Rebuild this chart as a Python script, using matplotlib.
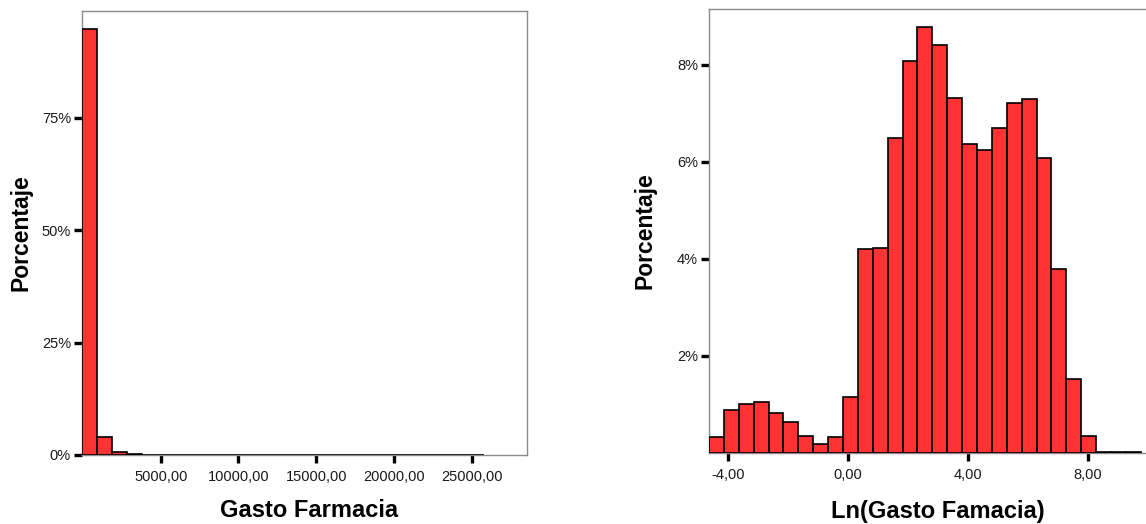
import matplotlib
matplotlib.use("Agg")
import matplotlib.pyplot as plt
import numpy as np

plt.rcParams['font.family'] = ['Liberation Sans', 'DejaVu Sans']

# ---- Data: left histogram (Gasto Farmacia) ----
left_bin_start = -60.0
left_bin_width = 958.0
left_percent = [94.7, 4.0, 0.7, 0.12, 0.08, 0.06, 0.05, 0.04, 0.03, 0.03,
                0.03, 0.02, 0.02, 0.02, 0.02, 0.02, 0.02, 0.0, 0.0, 0.02,
                0.0, 0.0, 0.02, 0.0, 0.02, 0.0, 0.02]
left_xticks = [5000, 10000, 15000, 20000, 25000]
left_xticklabels = ["5000,00", "10000,00", "15000,00", "20000,00", "25000,00"]
left_yticks = [0, 25, 50, 75]
left_yticklabels = ["0%", "25%", "50%", "75%"]

# ---- Data: right histogram (Ln(Gasto Famacia)) ----
right_bin_start = -4.63
right_bin_width = 0.4967
right_percent = [0.32, 0.89, 1.02, 1.05, 0.83, 0.64, 0.36, 0.19, 0.32, 1.15,
                 4.21, 4.23, 6.49, 8.08, 8.78, 8.40, 7.32, 6.37, 6.24, 6.69,
                 7.22, 7.29, 6.08, 3.79, 1.53, 0.36, 0.03, 0.015, 0.015]
right_xticks = [-4, 0, 4, 8]
right_xticklabels = ["-4,00", "0,00", "4,00", "8,00"]
right_yticks = [2, 4, 6, 8]
right_yticklabels = ["2%", "4%", "6%", "8%"]

ylabel_text = "Porcentaje"
left_xlabel = "Gasto Farmacia"
right_xlabel = "Ln(Gasto Famacia)"

BAR_COLOR = "#ff3333"
SPINE_COLOR = "#8c8c8c"

W, H = 1146, 524
fig = plt.figure(figsize=(W / 100, H / 100), dpi=100)

def px_axes(l, r, t, b):
    return fig.add_axes([l / W, (H - b) / H, (r - l) / W, (b - t) / H])

ax1 = px_axes(82, 527, 11, 455)
ax2 = px_axes(709, 1147, 9, 453)

def style(ax, start, width, vals, xlim, ylim, xt, xtl, yt, ytl, xlabel, ylab_x, xlab_y, xlab_x):
    lefts = [start + i * width for i in range(len(vals))]
    ax.bar(lefts, vals, width=width, align='edge', color=BAR_COLOR,
           edgecolor='black', linewidth=1.2, zorder=3)
    ax.set_xlim(*xlim)
    ax.set_ylim(*ylim)
    ax.set_xticks(xt)
    ax.set_xticklabels(xtl)
    ax.set_yticks(yt)
    ax.set_yticklabels(ytl)
    ax.tick_params(axis='both', direction='out', length=6, width=2.4,
                   color='black', labelsize=10.5, labelcolor='#1a1a1a')
    ax.tick_params(axis='x', pad=5)
    ax.tick_params(axis='y', pad=2)
    for s in ax.spines.values():
        s.set_color(SPINE_COLOR)
        s.set_linewidth(1.0)
    ax.set_ylabel(ylabel_text, fontsize=16.5, fontweight='bold')
    ax.yaxis.set_label_coords(ylab_x, 0.5)
    ax.set_xlabel(xlabel, fontsize=17, fontweight='bold')
    ax.xaxis.set_label_coords(xlab_x, xlab_y)

style(ax1, left_bin_start, left_bin_width, left_percent, (-64, 28553), (0, 98.7),
      left_xticks, left_xticklabels, left_yticks, left_yticklabels, left_xlabel,
      -0.112, -0.100, 0.511)
style(ax2, right_bin_start, right_bin_width, right_percent, (-4.63, 9.98), (0, 9.15),
      right_xticks, right_xticklabels, right_yticks, right_yticklabels, right_xlabel,
      -0.119, -0.106, 0.522)
ax2.spines['right'].set_visible(False)

fig.savefig("out.png", dpi=100)
